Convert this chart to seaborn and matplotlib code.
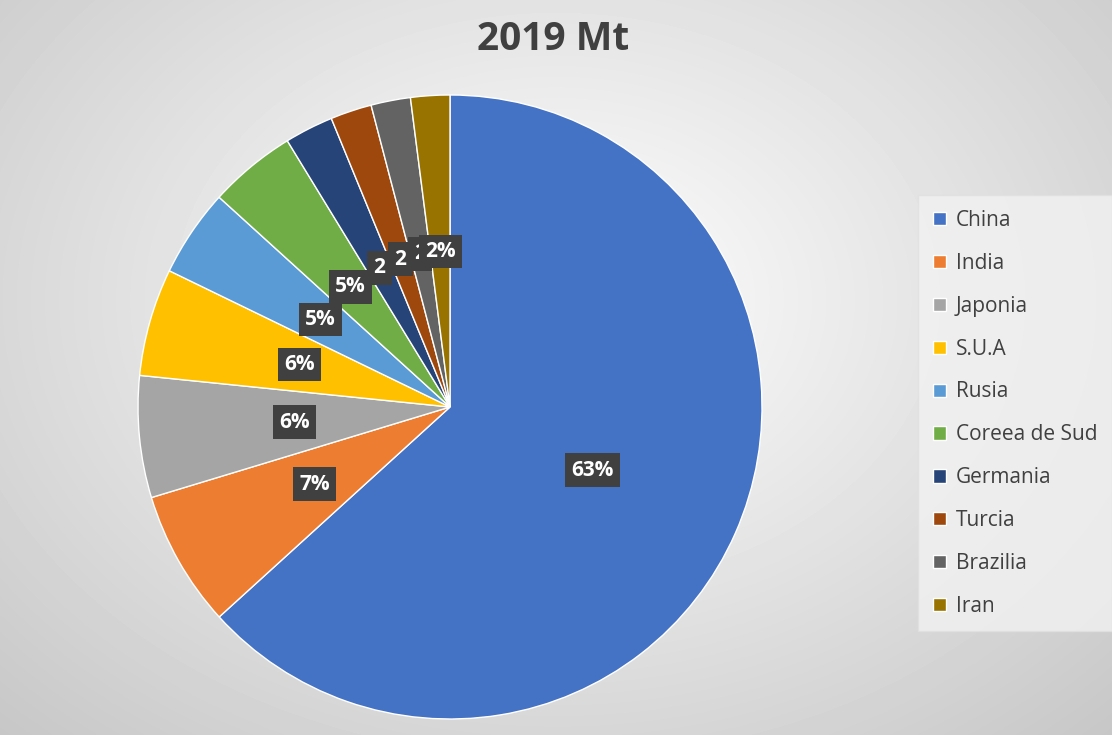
import numpy as np
import matplotlib
matplotlib.use('Agg')
import matplotlib.pyplot as plt
import seaborn as sns

sns.set_theme(style="white")
plt.rcParams['font.family'] = ['Open Sans', 'DejaVu Sans']

# Steel production 2019 (Mt)
countries = ['China', 'India', 'Japonia', 'S.U.A', 'Rusia', 'Coreea de Sud',
             'Germania', 'Turcia', 'Brazilia', 'Iran']
values = [996.3, 111.2, 99.3, 87.8, 71.6, 71.4, 39.7, 33.7, 32.2, 31.9]
# labels as shown (small ones clipped by overlap in the original)
shown = ['63%', '7%', '6%', '6%', '5%', '5%', '2', '2', '2', '2%']
colors = ['#4472C4', '#ED7D31', '#A5A5A5', '#FFC000', '#5B9BD5', '#70AD47',
          '#264478', '#9E480E', '#636363', '#997300']

fig = plt.figure(figsize=(11.12, 7.35), dpi=100)

# radial gradient background
bg = fig.add_axes([0, 0, 1, 1])
yy, xx = np.mgrid[0:735, 0:1112]
d = np.sqrt(((xx - 556) / 800.0) ** 2 + ((yy - 300) / 600.0) ** 2)
shade = 1.0 - 0.22 * np.clip(d, 0, 1)
bg.imshow(shade, cmap='gray', vmin=0, vmax=1, aspect='auto')
bg.axis('off')

ax = fig.add_axes([(450 - 312) / 1112, (735 - 407 - 312) / 735,
                   624 / 1112, 624 / 735])
wedges, _ = ax.pie(values, colors=colors, startangle=90, counterclock=False,
                   wedgeprops=dict(linewidth=1, edgecolor='white'))
ax.set_xlim(-1, 1)
ax.set_ylim(-1, 1)
ax.set_aspect('equal')

total = sum(values)
cum = 0
for v, lab in zip(values, shown):
    mid = 90 - 360 * (cum + v / 2) / total
    cum += v
    r = 0.5
    ax.text(r * np.cos(np.radians(mid)), r * np.sin(np.radians(mid)), lab,
            ha='center', va='center', color='white', fontsize=15, fontweight='bold',
            bbox=dict(boxstyle='square,pad=0.3', facecolor='#404040', edgecolor='none'))

fig.text(553 / 1112, 1 - 40 / 735, '2019 Mt', ha='center', va='center',
         fontsize=28, fontweight='bold', color='#404040')

leg = fig.legend(wedges, countries, loc='upper left',
                 bbox_to_anchor=(908 / 1112, 1 - 185 / 735), frameon=True,
                 fontsize=15, handlelength=0.6, handleheight=0.6, handletextpad=0.5,
                 labelspacing=1.05, borderpad=0.7, fancybox=False)
leg.get_frame().set_facecolor('#F2F2F2')
leg.get_frame().set_edgecolor('#E0E0E0')
for t in leg.get_texts():
    t.set_color('#404040')

fig.savefig('out.png', dpi=100)
